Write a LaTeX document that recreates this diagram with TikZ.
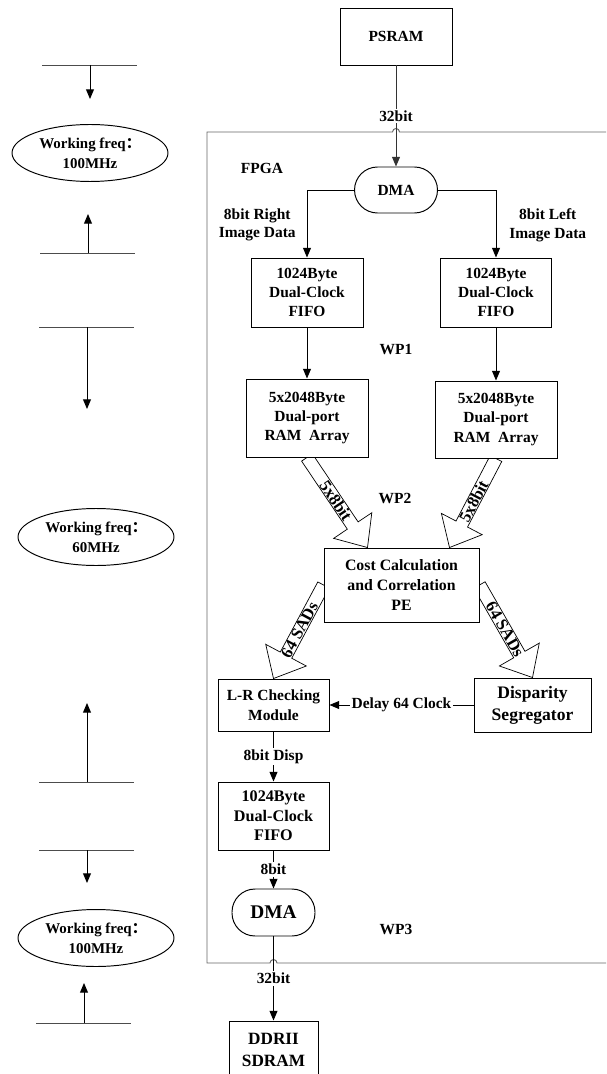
\documentclass[tikz,border=0pt]{standalone}
\usepackage{fontspec}
\setmainfont{Liberation Serif}
\newfontfamily\cjk{Noto Sans CJK SC}
\usetikzlibrary{positioning,arrows.meta,shapes.geometric,calc,backgrounds}

% hollow wide arrow: tail, tip, label, extra turn of the label
\newcommand{\fatarrow}[4]{%
  \coordinate (fh) at ($(#2)!0.53cm!(#1)$);
  \draw[fat] ($(#1)!0.13cm!90:(#2)$) -- ($(fh)!0.13cm!-90:(#1)$)
    -- ($(fh)!0.46cm!-90:(#1)$) -- (#2) -- ($(fh)!0.46cm!90:(#1)$)
    -- ($(fh)!0.13cm!90:(#1)$) -- ($(#1)!0.13cm!-90:(#2)$) -- cycle;
  \path let \p1=(#1), \p2=(#2), \n1={atan2(\y2-\y1,\x2-\x1)+#4} in
    node[fatlbl,rotate=\n1] at ($(#1)!0.48!(#2)$) {#3};
}

\begin{document}
\begin{tikzpicture}[x=0.02cm,y=-0.02cm,line width=0.55pt,
      font=\fontsize{8.8}{10.6}\selectfont\bfseries,
      box/.style={draw,fill=white,align=center,inner sep=1pt},
      dmabox/.style={draw,fill=white,rounded corners=0.46cm,minimum width=1.66cm,minimum height=0.92cm,inner sep=1pt},
      freq/.style={draw,ellipse,minimum width=3.12cm,minimum height=1.14cm,align=center,inner sep=0pt,font=\fontsize{8.5}{11.3}\selectfont\bfseries},
      lbl/.style={fill=white,inner sep=1pt},
      arr/.style={-{Triangle[length=5.5pt,width=4.5pt]}},
      fat/.style={draw,fill=white},
      fatlbl/.style={inner sep=0pt,font=\fontsize{9.5}{11}\selectfont\bfseries},
      frame/.style={draw=black!60}]
    \useasboundingbox (0,0) rectangle (606,1074);
    \clip (0,0) rectangle (606,1074);

    % clock domain marks on the left
    \foreach \lx/\ly/\ty in {90/65/99,88/253/214,87/327/409,87/782/703,87/850/883,84/1023/983} {
      \draw[black!70] (\lx-48,\ly) -- (\lx+47,\ly);
      \draw[arr] (\lx,\ly) -- (\lx,\ty);
    }
    \node[freq] (fqA) at (90,153) {Working freq{\cjk ：}\\100MHz};
    \node[freq] (fqB) at (96,537) {Working freq{\cjk ：}\\60MHz};
    \node[freq] (fqC) at (96,938) {Working freq{\cjk ：}\\100MHz};

    % FPGA frame with line hops
    \draw[frame] (606,132) -- (399.5,132) arc[start angle=0,end angle=180,radius=0.07cm]
      -- (207,132) -- (207,963) -- (270,963) arc[start angle=180,end angle=0,radius=0.07cm]
      -- (606,963);
    \node (fpga) at (262,168) {FPGA};

    \node[box,minimum width=2.24cm,minimum height=1.14cm] (psram) at (396,36.5) {PSRAM};
    \node[dmabox] (dmaA) at (396,190) {DMA};
    \node[box,minimum width=2.24cm,minimum height=1.38cm] (fifoL) at (307,292.5) {1024Byte\\Dual-Clock\\FIFO};
    \node[box,minimum width=2.22cm,minimum height=1.38cm] (fifoR) at (496,292.5) {1024Byte\\Dual-Clock\\FIFO};
    \node (wp1) at (396,350) {WP1};
    \node[box,minimum width=2.44cm,minimum height=1.56cm,font=\fontsize{8.8}{10.9}\selectfont\bfseries] (ramL) at (307,418) {5x2048Byte\\Dual-port\\RAM~~Array};
    \node[box,minimum width=2.44cm,minimum height=1.54cm,font=\fontsize{8.8}{10.9}\selectfont\bfseries] (ramR) at (496,419.5) {5x2048Byte\\Dual-port\\RAM~~Array};
    \node (wp2) at (395,498) {WP2};
    \node[box,minimum width=3.1cm,minimum height=1.48cm,font=\fontsize{9}{11.5}\selectfont\bfseries] (cost) at (401.5,585) {Cost Calculation\\and Correlation\\PE};
    \node[box,minimum width=2.22cm,minimum height=1.04cm,font=\fontsize{8.8}{11.3}\selectfont\bfseries] (lr) at (273.5,705) {L-R Checking\\Module};
    \node[box,minimum width=2.34cm,minimum height=1.08cm,font=\fontsize{10}{12.5}\selectfont\bfseries] (dis) at (532.5,705) {Disparity\\Segregator};
    \node[box,minimum width=2.22cm,minimum height=1.36cm,font=\fontsize{9.2}{11}\selectfont\bfseries] (fifoB) at (273.5,816) {1024Byte\\Dual-Clock\\FIFO};
    \node[dmabox,minimum height=0.94cm,font=\fontsize{11}{13}\selectfont\bfseries] (dmaB) at (273.5,912.5) {DMA};
    \node (wp3) at (396,929) {WP3};
    \node[box,minimum width=1.78cm,minimum height=1.16cm,font=\fontsize{9.8}{12.2}\selectfont\bfseries] (ddr) at (273.5,1050) {DDRII\\SDRAM};

    % data paths
    \draw[arr,black!80] (psram) -- node[lbl,text=black] (bwA) {32bit} (dmaA);
    \draw[arr] (dmaA.west) -| (fifoL.north);
    \draw[arr] (dmaA.east) -| (fifoR.north);
    \node[align=center,anchor=east] (imgR) at (302,225) {8bit Right\\Image Data};
    \node[align=center,anchor=west] (imgL) at (503,225) {8bit Left\\Image Data};
    \draw[arr] (fifoL) -- (ramL);
    \draw[arr] (fifoR) -- (ramR);
    \draw[arr] (dis) -- node[lbl] (dly) {Delay 64 Clock} (lr);
    \draw[arr] (lr) -- node[lbl] (bwB) {8bit Disp} (fifoB);
    \draw[arr] (fifoB) -- node[lbl] (bwC) {8bit} (dmaB);
    \draw[arr] (dmaB) -- node[lbl] (bwD) {32bit} (ddr);

    % wide buses
    \coordinate (a1t) at ($(cost.north)+(-34,0)$);
    \coordinate (a2t) at ($(cost.north)+(48,0)$);
    \begin{pgfonlayer}{background}
      \fatarrow{ramL.south}{a1t}{5x8bit}{0}
      \fatarrow{ramR.south}{a2t}{5x8bit}{180}
      \fatarrow{cost.west}{lr.north}{64 SADs}{180}
      \fatarrow{cost.east}{dis.north}{64 SADs}{0}
    \end{pgfonlayer}
  \end{tikzpicture}
\end{document}
